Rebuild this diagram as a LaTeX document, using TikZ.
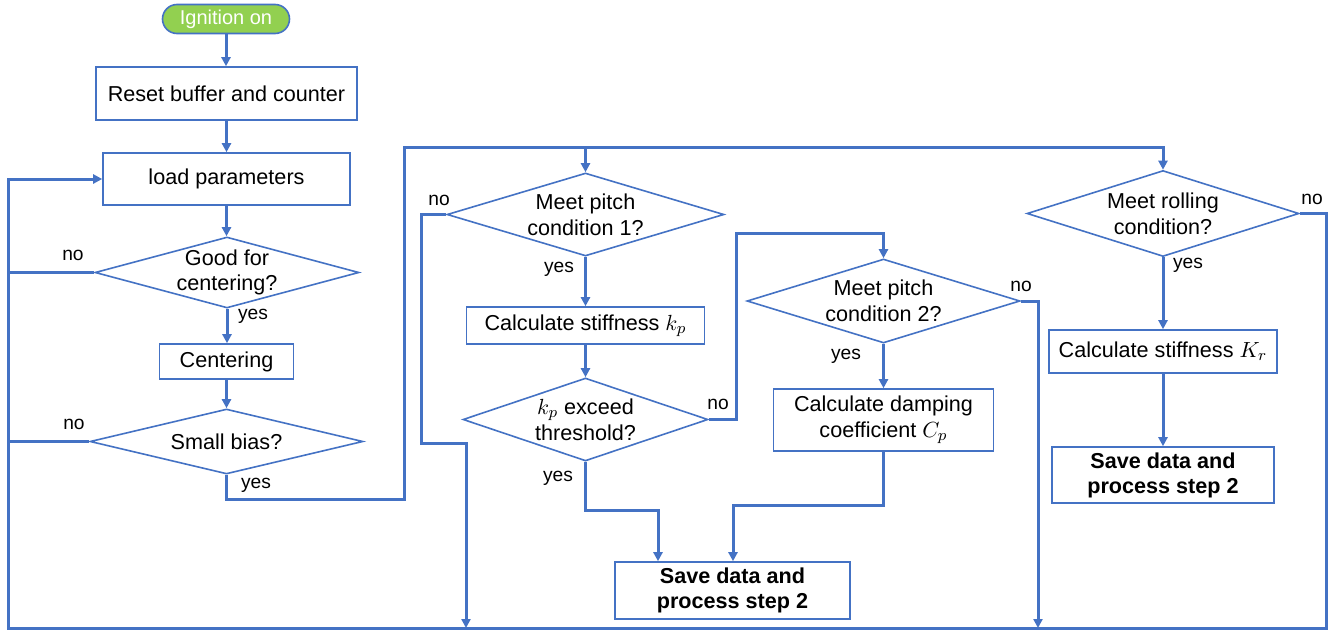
\documentclass[tikz,border=0pt]{standalone}
\usepackage{fontspec}
\setmainfont{Liberation Sans}
\usetikzlibrary{shapes.geometric,arrows.meta}
\definecolor{fblue}{RGB}{68,114,196}
\definecolor{fgreen}{RGB}{146,208,80}
\begin{document}
\begin{tikzpicture}[x=0.5pt,y=-0.5pt,
  every node/.style={font=\fontsize{10.8pt}{12.8pt}\selectfont, inner sep=0pt},
  box/.style={draw=fblue, line width=0.8pt, fill=white, align=center},
  dia/.style={diamond, draw=fblue, line width=0.8pt, fill=white},
  txt/.style={align=center},
  boldtxt/.style={font=\fontsize{10.8pt}{12.5pt}\selectfont\bfseries},
  lbl/.style={font=\fontsize{9.6pt}{11pt}\selectfont},
  conn/.style={draw=fblue, line width=1.5pt, -{Triangle[length=4.5pt,width=4.5pt]}},
  wire/.style={draw=fblue, line width=1.5pt},
]
\useasboundingbox (0,0) rectangle (1330,632);

% nodes
\node[draw=fblue, line width=0.8pt, fill=fgreen, rounded corners=7.25pt,
      minimum width=63.5pt, minimum height=14.5pt, text=white,
      font=\fontsize{10pt}{12pt}\selectfont] (start) at (226,19) {Ignition on};
\node[box, minimum width=130.5pt, minimum height=26.5pt] (reset) at (226.5,93.5) {Reset buffer and counter};
\node[box, minimum width=123.5pt, minimum height=26pt] (load) at (226.5,179) {load parameters};
\node[dia, minimum width=132pt, minimum height=35.5pt] (good) at (227,272.5) {};
\node[txt] (goodt) at (good) {Good for\\centering?};
\node[box, minimum width=67pt, minimum height=17.5pt] (cent) at (226.5,361.5) {Centering};
\node[dia, minimum width=136.5pt, minimum height=32.5pt] (small) at (226.5,441.5) {};
\node[txt] (smallt) at (small) {Small bias?};

\node[dia, minimum width=138.5pt, minimum height=41.5pt] (p1) at (585.5,214.5) {};
\node[txt] (p1t) at (p1) {Meet pitch\\condition 1?};
\node[box, minimum width=119pt, minimum height=18.5pt] (kpb) at (585.5,325.5) {Calculate stiffness $k_p$};
\node[dia, minimum width=122.5pt, minimum height=41.5pt] (kpd) at (585.5,419.5) {};
\node[txt] (kpdt) at (kpd) {$k_p$ exceed\\threshold?};

\node[dia, minimum width=136.5pt, minimum height=42pt] (p2) at (883.5,301) {};
\node[txt] (p2t) at (p2) {Meet pitch\\condition 2?};
\node[box, minimum width=110pt, minimum height=31pt] (damp) at (883.5,420) {Calculate damping\\coefficient $C_p$};
\node[box, boldtxt, minimum width=117.5pt, minimum height=28.5pt] (save1) at (732.5,590.5) {Save data and\\process step 2};

\node[dia, minimum width=136pt, minimum height=43pt] (roll) at (1163,213.5) {};
\node[txt] (rollt) at (roll) {Meet rolling\\condition?};
\node[box, minimum width=114pt, minimum height=21.5pt] (kr) at (1163,351.5) {Calculate stiffness $K_r$};
\node[box, boldtxt, minimum width=111pt, minimum height=28pt] (save2) at (1163,475) {Save data and\\process step 2};

% helper coordinates
\coordinate (xl) at (8,628);
\coordinate (xr) at (1326,628);
\coordinate (sy) at (404,499.5);
\coordinate (top) at (404,147.5);
\coordinate (p1a) at (421,443);
\coordinate (p1b) at (466,628);
\coordinate (kn) at (736,233.5);
\coordinate (ky) at (658,510);
\coordinate (p2n) at (1038,628);
\coordinate (dy) at (733,505.5);

% connectors
\draw[conn] (start.south) -- (start.south |- reset.north);
\draw[conn] (reset.south) -- (reset.south |- load.north);
\draw[conn] (load.south) -- (load.south |- good.north);
\draw[conn] (good.south) -- (good.south |- cent.north);
\draw[conn] (cent.south) -- (cent.south |- small.north);
\draw[wire] (good.west) -- (good.west -| xl);
\draw[wire] (small.west) -- (small.west -| xl);
\draw[conn] (roll.east) -| (xr) -- (xl) |- (load.west);
\draw[conn] (small.south) |- (sy) -- (top) -| (roll.north);
\draw[conn] (p1.north |- top) -- (p1.north);
\draw[conn] (p1.south) -- (p1.south |- kpb.north);
\draw[conn] (kpb.south) -- (kpb.south |- kpd.north);
\draw[conn] (p1.west) -| (p1a) -| (p1b);
\draw[conn] (kpd.east) -| (kn) -| (p2.north);
\draw[conn] (kpd.south) |- (ky) -- (ky |- save1.north);
\draw[conn] (p2.south) -- (p2.south |- damp.north);
\draw[conn] (p2.east) -| (p2n);
\draw[conn] (damp.south) |- (dy) -- (dy |- save1.north);
\draw[conn] (roll.south) -- (roll.south |- kr.north);
\draw[conn] (kr.south) -- (kr.south |- save2.north);

% labels
\node[lbl] (l1) at (73,255) {no};
\node[lbl] (l2) at (74,424) {no};
\node[lbl] (l3) at (253,316) {yes};
\node[lbl] (l4) at (256,485) {yes};
\node[lbl] (l5) at (439,200) {no};
\node[lbl] (l6) at (559,269) {yes};
\node[lbl] (l7) at (718,404) {no};
\node[lbl] (l8) at (558,478) {yes};
\node[lbl] (l9) at (1021,286) {no};
\node[lbl] (l10) at (846,356) {yes};
\node[lbl] (l11) at (1312,199) {no};
\node[lbl] (l12) at (1188,265) {yes};
\end{tikzpicture}
\end{document}
